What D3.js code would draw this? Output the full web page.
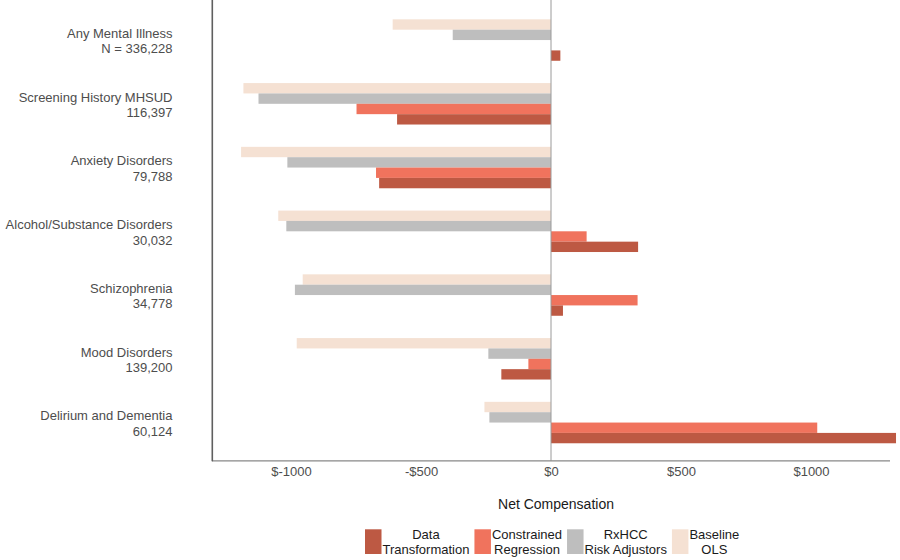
<!DOCTYPE html>
<html>
<head>
<meta charset="utf-8">
<script src="https://cdn.jsdelivr.net/npm/d3@7"></script>
<style>
  html, body { margin: 0; padding: 0; background: #fff; }
  svg { display: block; font-family: "Liberation Sans", Arial, sans-serif; }
</style>
</head>
<body>
<svg id="chart" width="900" height="560"></svg>
<script>
// ---- data ----
const categories = [
  "Any Mental Illness", "Screening History MHSUD", "Anxiety Disorders",
  "Alcohol/Substance Disorders", "Schizophrenia", "Mood Disorders", "Delirium and Dementia"
];
const categoryCounts = ["N = 336,228", "116,397", "79,788", "30,032", "34,778", "139,200", "60,124"];
const seriesNames = ["Baseline OLS", "RxHCC Risk Adjustors", "Constrained Regression", "Data Transformation"];
const baselineOLS        = [-609, -1183, -1192, -1049, -955, -978, -256];
const rxhccAdjustors     = [-378, -1125, -1014, -1018, -985, -241, -237];
const constrainedRegr    = [0, -748, -673, 137, 333, -87, 1024];
const dataTransformation = [36, -592, -661, 335, 46, -191, 1327];
const xTicks = [-1000, -500, 0, 500, 1000];
const xTickLabels = ["$-1000", "-$500", "$0", "$500", "$1000"];
const legendOrder = ["Data Transformation", "Constrained Regression", "RxHCC Risk Adjustors", "Baseline OLS"];
const legendLabels = [["Data", "Transformation"], ["Constrained", "Regression"], ["RxHCC", "Risk Adjustors"], ["Baseline", "OLS"]];

const seriesValues = {
  "Baseline OLS": baselineOLS,
  "RxHCC Risk Adjustors": rxhccAdjustors,
  "Constrained Regression": constrainedRegr,
  "Data Transformation": dataTransformation
};
const colors = {
  "Data Transformation": "#BD5943",
  "Constrained Regression": "#F0735D",
  "RxHCC Risk Adjustors": "#BEBEBE",
  "Baseline OLS": "#F5E1D3"
};

// ---- layout ----
const svg = d3.select("#chart");
const pLeft = 213, pRight = 889, pTop = 1.8, pBottom = 460.8;

const x = d3.scaleLinear().domain([-1300, 1300]).range([pLeft, pRight]);
const y = d3.scaleBand().domain(categories).range([pTop, pBottom]).paddingInner(0.35).paddingOuter(0.275);
const ySub = d3.scaleBand().domain(seriesNames).range([0, y.bandwidth()]).padding(0);

// bars
const barData = [];
categories.forEach((c, i) => {
  seriesNames.forEach(s => barData.push({ cat: c, series: s, value: seriesValues[s][i] }));
});
svg.append("g").selectAll("rect").data(barData.filter(d => d.value !== 0)).join("rect")
  .attr("x", d => x(Math.min(0, d.value)))
  .attr("y", d => y(d.cat) + ySub(d.series))
  .attr("width", d => Math.abs(x(d.value) - x(0)))
  .attr("height", ySub.bandwidth())
  .attr("fill", d => colors[d.series]);

// zero line
svg.append("line")
  .attr("x1", x(0)).attr("x2", x(0)).attr("y1", 0).attr("y2", pBottom)
  .attr("stroke", "#9a9a9a").attr("stroke-width", 1);

// x axis
const xAxis = d3.axisBottom(x).tickValues(xTicks).tickFormat((d, i) => xTickLabels[i]).tickSize(0).tickPadding(6);
const gx = svg.append("g").attr("transform", `translate(0,${pBottom})`).call(xAxis);
gx.select(".domain").attr("stroke", "#888").attr("stroke-width", 1.2).attr("d", `M${pLeft - 1},0H${pRight + 1}`);
gx.selectAll("text").attr("font-size", 13).attr("fill", "#4d4d4d")
  .attr("font-family", "'Liberation Sans', Arial, sans-serif");

// left axis line
svg.append("line")
  .attr("x1", pLeft - 0.7).attr("x2", pLeft - 0.7).attr("y1", 0).attr("y2", pBottom + 0.5)
  .attr("stroke", "#5f5f5f").attr("stroke-width", 1.6);

// category labels
const labelG = svg.append("g");
categories.forEach((c, i) => {
  const cy = y(c) + y.bandwidth() / 2;
  const t = labelG.append("text").attr("text-anchor", "end").attr("font-size", 13).attr("fill", "#4d4d4d");
  t.append("tspan").attr("x", 172.5).attr("y", cy - 2.3).text(c);
  t.append("tspan").attr("x", 172.5).attr("y", cy + 13.2).text(categoryCounts[i]);
});

// axis title
svg.append("text").attr("x", 556).attr("y", 509.3).attr("text-anchor", "middle")
  .attr("font-size", 14).attr("fill", "#1a1a1a").text("Net Compensation");

// legend
const legG = svg.append("g");
let lx = 365;
legendOrder.forEach((s, i) => {
  legG.append("rect").attr("x", lx).attr("y", 529.3).attr("width", 16.5).attr("height", 24.7).attr("fill", colors[s]);
  const t = legG.append("text").attr("font-size", 13).attr("fill", "#1a1a1a").attr("text-anchor", "middle");
  const s1 = t.append("tspan").text(legendLabels[i][0]);
  const s2 = t.append("tspan").text(legendLabels[i][1]);
  const tmp = legG.append("text").attr("font-size", 13);
  const w = Math.max(...legendLabels[i].map(l => { tmp.text(l); return tmp.node().getComputedTextLength(); }));
  tmp.remove();
  const cx = lx + 17.5 + w / 2;
  s1.attr("x", cx).attr("y", 539.3);
  s2.attr("x", cx).attr("y", 554.3);
  lx = lx + 17.5 + w + 5;
});
</script>
</body>
</html>
